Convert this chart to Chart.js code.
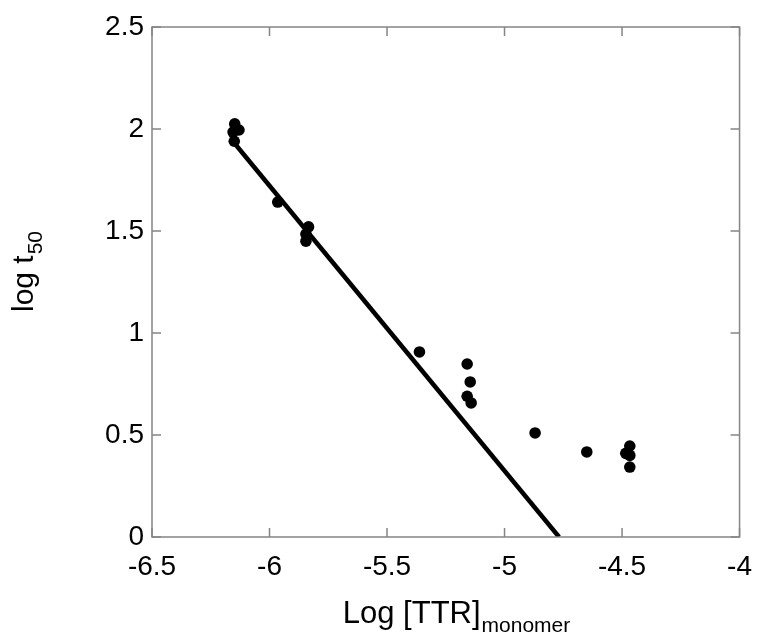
<!DOCTYPE html>
<html>
<head>
<meta charset="utf-8">
<script src="https://cdn.jsdelivr.net/npm/chart.js@4"></script>
<style>
  html, body { margin:0; padding:0; background:#fff; }
  #wrap { width:765px; height:637px; }
</style>
</head>
<body>
<div id="wrap"><canvas id="chartTTR" width="765" height="637"></canvas></div>
<script>
// ── Datos ─────────────────────────────────────────────────────────────────────
const LOG_TTR = [-6.148, -6.155, -6.130, -6.150, -5.965, -5.834, -5.845, -5.845,
                 -5.362, -5.159, -5.146, -5.159, -5.142, -4.870, -4.650, -4.484, -4.467, -4.467, -4.467];
const LOG_T50 = [2.025, 1.985, 1.995, 1.940, 1.642, 1.520, 1.485, 1.450,
                 0.907, 0.848, 0.760, 0.690, 0.657, 0.510, 0.417, 0.410, 0.446, 0.400, 0.343];
const FIT_X = [-6.156, -4.768];
const FIT_Y = [1.940, 0.000];
const X_TICKS = [-6.5, -6, -5.5, -5, -4.5, -4];
const Y_TICKS = [0, 0.5, 1, 1.5, 2, 2.5];

const frameGrey = '#858585';
const fontFam = 'Liberation Sans, Arial, sans-serif';

// ── Marco, marcas internas y títulos con subíndice ───────────────────────────
function textoConSub(ctx, main, sub, x, y, fMain, fSub, dy) {
    ctx.font = fMain + 'px ' + fontFam;
    const w1 = ctx.measureText(main).width;
    ctx.font = fSub + 'px ' + fontFam;
    const w2 = ctx.measureText(sub).width;
    const x0 = x - (w1 + w2) / 2;
    ctx.font = fMain + 'px ' + fontFam;
    ctx.fillText(main, x0, y);
    ctx.font = fSub + 'px ' + fontFam;
    ctx.fillText(sub, x0 + w1 + 1, y + dy);
}

const marcoPlugin = { id:'marco', afterDraw(chart) {
    const {ctx, chartArea:a} = chart;
    const sx = chart.scales.x, sy = chart.scales.y;
    ctx.save();
    ctx.strokeStyle = frameGrey; ctx.lineWidth = 1.5;
    ctx.strokeRect(a.left, a.top, a.right - a.left, a.bottom - a.top);
    ctx.beginPath();
    X_TICKS.forEach(v => {
        const px = sx.getPixelForValue(v);
        ctx.moveTo(px, a.bottom); ctx.lineTo(px, a.bottom - 9);
        ctx.moveTo(px, a.top);    ctx.lineTo(px, a.top + 9);
    });
    Y_TICKS.forEach(v => {
        const py = sy.getPixelForValue(v);
        ctx.moveTo(a.left, py);  ctx.lineTo(a.left + 9, py);
        ctx.moveTo(a.right, py); ctx.lineTo(a.right - 9, py);
    });
    ctx.stroke();

    ctx.fillStyle = '#000';
    ctx.textBaseline = 'alphabetic';
    ctx.textAlign = 'left';
    // título eje x
    textoConSub(ctx, 'Log [TTR]', 'monomer', 456, 623, 31, 21, 9);
    // título eje y
    ctx.translate(33, 272);
    ctx.rotate(-Math.PI / 2);
    textoConSub(ctx, 'log t', '50', 0, 0, 30, 21, 9);
    ctx.restore();
}};

new Chart(document.getElementById('chartTTR'), {
    type:'scatter',
    data:{ datasets:[
        { type:'line', data:FIT_X.map((x,i) => ({x, y:FIT_Y[i]})), borderColor:'#000', borderWidth:4.5,
          pointRadius:0, fill:false, tension:0, order:2 },
        { data:LOG_TTR.map((x,i) => ({x, y:LOG_T50[i]})), backgroundColor:'#000', borderColor:'#000',
          pointRadius:5.8, pointBorderWidth:0, order:1 }
    ]},
    options:{
        responsive:false, animation:false,
        layout:{ padding:{ top:27, right:21, left:0, bottom:0 } },
        plugins:{ legend:{display:false}, tooltip:{enabled:false} },
        scales:{
            x:{ type:'linear', min:-6.5, max:-4,
                afterFit: s => { s.height = 100; },
                afterBuildTicks: s => { s.ticks = X_TICKS.map(v => ({value:v})); },
                grid:{ display:false, drawTicks:false },
                border:{ display:false },
                ticks:{ color:'#000', font:{size:28, family:fontFam}, padding:13,
                        callback: v => String(v) } },
            y:{ type:'linear', min:0, max:2.5,
                afterFit: s => { s.width = 152; },
                afterBuildTicks: s => { s.ticks = Y_TICKS.map(v => ({value:v})); },
                grid:{ display:false, drawTicks:false },
                border:{ display:false },
                ticks:{ color:'#000', font:{size:28, family:fontFam}, padding:8,
                        callback: v => String(v) } }
        }
    },
    plugins:[marcoPlugin]
});
</script>
</body>
</html>
